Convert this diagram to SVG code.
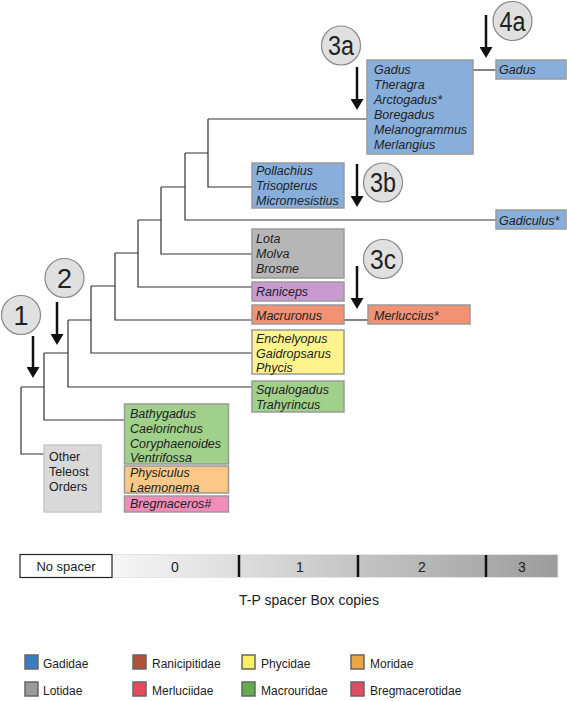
<svg xmlns="http://www.w3.org/2000/svg" width="567" height="701" viewBox="0 0 567 701">
<style>
.tx{font-family:"Liberation Sans",Arial,sans-serif;font-size:12.5px;font-style:italic;fill:#222}
.up{font-family:"Liberation Sans",Arial,sans-serif;fill:#222}
.bx{stroke:#9a9a9a;stroke-width:1.5}
.ln{fill:none;stroke:#333;stroke-width:1.2}
.cir{fill:#e0e0e0;stroke:#888;stroke-width:1.2}
.cl{font-family:"Liberation Sans",Arial,sans-serif;font-size:27px;fill:#222;text-anchor:middle}
.ar{stroke:#111;stroke-width:2.5}
.lg{stroke:#666;stroke-width:1.5}
.tick{stroke:#111;stroke-width:2.5}
</style>
<defs>
<linearGradient id="gr" x1="0" y1="0" x2="1" y2="0">
<stop offset="0" stop-color="#f6f6f6"/>
<stop offset="1" stop-color="#9c9c9c"/>
</linearGradient>
<marker id="ah" markerWidth="11" markerHeight="13" refX="0" refY="6.5" orient="auto" markerUnits="userSpaceOnUse" viewBox="0 0 11 13">
<path d="M0,0 L11,6.5 L0,13 Z" fill="#111"/>
</marker>
</defs>
<g id="connectors">
<path class="ln" d="M208,119 V187 H252 M208,119 H367"/>
<path class="ln" d="M185,153 V220 H496 M185,153 H208"/>
<path class="ln" d="M161,187 V254 H252 M161,187 H185"/>
<path class="ln" d="M138,220 V287 H252 M138,220 H161"/>
<path class="ln" d="M115,253 V320 H252 M115,253 H138"/>
<path class="ln" d="M91,286 V353 H252 M91,286 H115"/>
<path class="ln" d="M68,320 V387 H252 M68,320 H91"/>
<path class="ln" d="M44,353 V420 H124.5 M44,353 H68"/>
<path class="ln" d="M21,387 V454 H44 M21,387 H44"/>
<path class="ln" d="M473,70 H496"/>
<path class="ln" d="M344,320 H368"/>
</g>
<g id="gadus-group">
<rect class="bx" x="367" y="60" width="106" height="94" fill="#88aedc"/>
<text class="tx" x="374" y="74">Gadus</text>
<text class="tx" x="374" y="89">Theragra</text>
<text class="tx" x="374" y="104">Arctogadus*</text>
<text class="tx" x="374" y="119">Boregadus</text>
<text class="tx" x="374" y="134">Melanogrammus</text>
<text class="tx" x="374" y="149">Merlangius</text>
</g>
<g id="gadus">
<rect class="bx" x="496" y="60" width="70" height="19" fill="#88aedc"/>
<text class="tx" x="499" y="74">Gadus</text>
</g>
<g id="gadiculus">
<rect class="bx" x="496" y="210" width="70" height="19" fill="#88aedc"/>
<text class="tx" x="499" y="224.5">Gadiculus*</text>
</g>
<g id="pollachius">
<rect class="bx" x="252" y="163" width="92" height="45" fill="#88aedc"/>
<text class="tx" x="256" y="174.5">Pollachius</text>
<text class="tx" x="256" y="189.5">Trisopterus</text>
<text class="tx" x="256" y="204.5">Micromesistius</text>
</g>
<g id="lota">
<rect class="bx" x="252" y="229" width="92" height="49" fill="#b6b6b6"/>
<text class="tx" x="256" y="243">Lota</text>
<text class="tx" x="256" y="258">Molva</text>
<text class="tx" x="256" y="273">Brosme</text>
</g>
<g id="raniceps">
<rect class="bx" x="252" y="282" width="92" height="19" fill="#c89ad0"/>
<text class="tx" x="256" y="296">Raniceps</text>
</g>
<g id="macruronus">
<rect class="bx" x="252" y="305" width="92" height="19" fill="#f29272"/>
<text class="tx" x="256" y="320">Macruronus</text>
</g>
<g id="merluccius">
<rect class="bx" x="368" y="305" width="102" height="19" fill="#f29272"/>
<text class="tx" x="374" y="320">Merluccius*</text>
</g>
<g id="enchelyopus">
<rect class="bx" x="252" y="330" width="92" height="44" fill="#fff48c"/>
<text class="tx" x="256" y="342.5">Enchelyopus</text>
<text class="tx" x="256" y="357.5">Gaidropsarus</text>
<text class="tx" x="256" y="372">Phycis</text>
</g>
<g id="squalogadus">
<rect class="bx" x="252" y="381" width="92" height="31" fill="#a0d08a"/>
<text class="tx" x="256" y="393.5">Squalogadus</text>
<text class="tx" x="256" y="408.5">Trahyrincus</text>
</g>
<g id="bathygadus">
<rect class="bx" x="124.5" y="404" width="104" height="60" fill="#a0d08a"/>
<text class="tx" x="130" y="417.5">Bathygadus</text>
<text class="tx" x="130" y="432.5">Caelorinchus</text>
<text class="tx" x="130" y="447.5">Coryphaenoides</text>
<text class="tx" x="130" y="462">Ventrifossa</text>
</g>
<g id="physiculus">
<rect class="bx" x="124.5" y="466" width="104" height="27" fill="#fcc888"/>
<text class="tx" x="130" y="477">Physiculus</text>
<text class="tx" x="130" y="491.5">Laemonema</text>
</g>
<g id="bregmaceros">
<rect class="bx" x="124.5" y="496" width="104" height="16" fill="#f28cb8"/>
<text class="tx" x="130" y="508">Bregmaceros#</text>
</g>
<g id="other-teleost">
<rect x="44" y="445" width="57" height="67" fill="#d9d9d9" stroke="#c8c8c8" stroke-width="1.5"/>
<text class="up" x="49" y="461" font-size="12.5">Other</text>
<text class="up" x="49" y="476" font-size="12.5">Teleost</text>
<text class="up" x="49" y="491" font-size="12.5">Orders</text>
</g>
<g id="marker-3a">
<circle class="cir" cx="341" cy="45.5" r="19.5"/>
<text class="cl" x="341" y="55" textLength="26" lengthAdjust="spacingAndGlyphs">3a</text>
<line class="ar" x1="357" y1="67" x2="357" y2="99" marker-end="url(#ah)"/>
</g>
<g id="marker-4a">
<circle class="cir" cx="512.5" cy="21" r="19.5"/>
<text class="cl" x="512.5" y="30.5" textLength="26" lengthAdjust="spacingAndGlyphs">4a</text>
<line class="ar" x1="486" y1="15" x2="486" y2="47" marker-end="url(#ah)"/>
</g>
<g id="marker-3b">
<circle class="cir" cx="383" cy="182.5" r="19.5"/>
<text class="cl" x="383" y="192" textLength="26" lengthAdjust="spacingAndGlyphs">3b</text>
<line class="ar" x1="357" y1="164" x2="357" y2="196" marker-end="url(#ah)"/>
</g>
<g id="marker-3c">
<circle class="cir" cx="383" cy="259" r="19.5"/>
<text class="cl" x="383" y="268.5" textLength="26" lengthAdjust="spacingAndGlyphs">3c</text>
<line class="ar" x1="357" y1="266" x2="357" y2="298" marker-end="url(#ah)"/>
</g>
<g id="marker-2">
<circle class="cir" cx="64.5" cy="278" r="19.5"/>
<text class="cl" x="64.5" y="287.5">2</text>
<line class="ar" x1="57" y1="302" x2="57" y2="334" marker-end="url(#ah)"/>
</g>
<g id="marker-1">
<circle class="cir" cx="21" cy="315" r="19.5"/>
<text class="cl" x="21" y="324.5">1</text>
<line class="ar" x1="33" y1="336" x2="33" y2="367" marker-end="url(#ah)"/>
</g>
<g id="spacer-bar">
<rect x="112" y="554.5" width="446" height="23" fill="url(#gr)" stroke="#e4e4e4" stroke-width="1"/>
<rect x="20" y="554.5" width="92" height="23" fill="#fff" stroke="#222" stroke-width="1.2"/>
<line class="tick" x1="239" y1="555" x2="239" y2="577"/>
<line class="tick" x1="358" y1="555" x2="358" y2="577"/>
<line class="tick" x1="486" y1="555" x2="486" y2="577"/>
<text class="up" x="66" y="571" font-size="13" text-anchor="middle">No spacer</text>
<text class="up" x="175" y="572" font-size="14" text-anchor="middle">0</text>
<text class="up" x="300" y="572" font-size="14" text-anchor="middle">1</text>
<text class="up" x="422" y="572" font-size="14" text-anchor="middle">2</text>
<text class="up" x="522" y="572" font-size="14" text-anchor="middle">3</text>
<text class="up" x="309" y="605" font-size="14" text-anchor="middle">T-P spacer Box copies</text>
</g>
<g id="legend">
<rect class="lg" x="25" y="655" width="13" height="14" fill="#3a7cc0"/>
<text class="up" x="43" y="668" font-size="12">Gadidae</text>
<rect class="lg" x="133" y="655" width="13" height="14" fill="#b0523a"/>
<text class="up" x="152" y="668" font-size="12">Ranicipitidae</text>
<rect class="lg" x="242" y="655" width="13" height="14" fill="#f7f060"/>
<text class="up" x="261" y="668" font-size="12">Phycidae</text>
<rect class="lg" x="351" y="655" width="13" height="14" fill="#eaa646"/>
<text class="up" x="370" y="668" font-size="12">Moridae</text>
<rect class="lg" x="25" y="682" width="13" height="14" fill="#9a9a9a"/>
<text class="up" x="43" y="695" font-size="12">Lotidae</text>
<rect class="lg" x="133" y="682" width="13" height="14" fill="#e84a5c"/>
<text class="up" x="152" y="695" font-size="12">Merluciidae</text>
<rect class="lg" x="242" y="682" width="13" height="14" fill="#62ae4e"/>
<text class="up" x="261" y="695" font-size="12">Macrouridae</text>
<rect class="lg" x="351" y="682" width="13" height="14" fill="#e04c64"/>
<text class="up" x="370" y="695" font-size="12">Bregmacerotidae</text>
</g>
</svg>
